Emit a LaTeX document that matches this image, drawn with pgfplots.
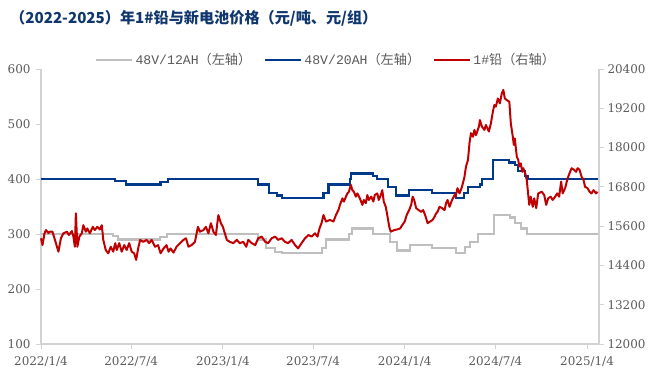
\documentclass[border=0pt]{standalone}
\usepackage{fontspec}
\usepackage{pgfplots}
\pgfplotsset{compat=1.18}
\setmainfont{DejaVu Serif}
\newfontfamily\cjk{Noto Sans CJK SC}
\newfontfamily\mono{Liberation Mono}
\definecolor{cgray}{RGB}{191,191,191}
\definecolor{cblue}{RGB}{0,56,140}
\definecolor{cred}{RGB}{192,0,0}
\definecolor{axgray}{RGB}{210,210,210}
\definecolor{txt}{RGB}{89,89,89}
\definecolor{ttl}{RGB}{16,54,110}
\pgfplotsset{
  base/.style={
    scale only axis, width=558bp, height=275bp,
    xmin=0, xmax=1120,
    axis line style={-, draw=axgray, line width=1.6pt},
    tick style={draw=axgray, line width=1pt},
    tick align=outside, major tick length=5bp,
    ticklabel style={font=\fontsize{12}{14}\selectfont, text=txt},
    /pgf/number format/assume math mode=true,
    /pgf/number format/1000 sep={},
    scaled y ticks=false,
    clip=false,
  }
}
\begin{document}
\begin{tikzpicture}
\path[use as bounding box] (-41bp,-37bp) rectangle (623bp,344bp);
\node[anchor=west, font=\cjk\bfseries\fontsize{15.2}{18}\selectfont, text=ttl, inner sep=0] at (-31bp,326bp) {（2022-2025）年1\#铅与新电池价格（元/吨、元/组）};
\begin{axis}[base,
  ymin=100, ymax=600,
  axis y line*=left, axis x line*=bottom,
  xtick={0,181,365,546,730,912,1096},
  xticklabels={2022/1/4,2022/7/4,2023/1/4,2023/7/4,2024/1/4,2024/7/4,2025/1/4},
  xticklabel style={yshift=-4bp},
  ytick={100,200,...,600},
  yticklabel style={xshift=-2bp},
  legend style={at={(axis description cs:0.511,1.033)}, anchor=center, draw=none, fill=none,
    legend columns=3, font=\fontsize{13.2}{15}\selectfont, text=txt,
    /tikz/every even column/.append style={column sep=11bp}},
  legend image code/.code={\draw[#1] (0bp,0bp) -- (36bp,0bp);},
]
\addplot[const plot, cgray, line width=2.2pt] coordinates {
(0,300)(145,296)(155,290)(239,295)(253,300)(436,290)(452,275)(470,268)(484,265)(564,275)(572,290)(618,300)(624,310)(667,300)(701,285)(714,270)(741,280)(784,275)(833,265)(851,277)(861,285)(877,300)(909,335)(941,330)(951,320)(964,310)(976,300)(1120,300)
};
\addlegendentry{{\mono 48V/12AH}{\cjk（左轴）}}
\addplot[const plot, cblue, line width=2.2pt] coordinates {
(0,400)(148,396)(171,390)(240,395)(255,400)(436,390)(458,375)(474,370)(483,365)(567,375)(577,390)(620,400)(623,410)(667,405)(674,400)(697,385)(713,370)(738,380)(785,375)(833,365)(849,375)(857,385)(881,390)(885,400)(908,435)(940,430)(951,425)(958,415)(972,405)(978,400)(1120,400)
};
\addlegendentry{{\mono 48V/20AH}{\cjk（左轴）}}
\addlegendimage{cred, line width=2.2pt}
\addlegendentry{{\mono 1\#}{\cjk 铅（右轴）}}
\end{axis}
\begin{axis}[base,
  ymin=12000, ymax=20400,
  axis y line*=right, axis x line=none,
  ytick={12000,13200,...,20400},
]
\addplot[cred, line width=2pt, line join=round] coordinates {
(0,15230)(3,15020)(7,15380)(10,15480)(15,15390)(18,15430)(23,15430)(28,15180)(35,14820)(40,15230)(45,15380)(52,15430)(56,15330)(62,15450)(65,15280)(68,14970)(70,15990)(73,14970)(77,15280)(82,15380)(85,15630)(90,15430)(93,15530)(98,15380)(104,15580)(108,15480)(113,15580)(118,15500)(122,15630)(125,15180)(130,14870)(135,14770)(140,14970)(145,14820)(149,15080)(152,14870)(157,15080)(162,14820)(167,15020)(172,14870)(177,15080)(182,14820)(187,14770)(191,14570)(195,14920)(199,15180)(205,15120)(212,15180)(217,15080)(222,15180)(229,14970)(235,15020)(240,14770)(246,14920)(252,15020)(256,14820)(260,14920)(266,14790)(272,14970)(279,15080)(286,15180)(291,15230)(296,14970)(302,15020)(309,15120)(315,15580)(319,15430)(326,15480)(331,15580)(336,15380)(341,15690)(346,15430)(351,15330)(356,15940)(361,15690)(365,15580)(369,15380)(373,15180)(379,15120)(386,15080)(393,15180)(399,15080)(406,15120)(412,14970)(416,15180)(423,15080)(430,15020)(436,15230)(443,15280)(450,15120)(456,15080)(463,15230)(470,15280)(476,15180)(483,15230)(490,15120)(496,15080)(503,15180)(510,15020)(516,14920)(523,15080)(530,15230)(537,15330)(543,15280)(550,15380)(555,15280)(559,15530)(563,15690)(567,15940)(572,15740)(580,15790)(587,15740)(592,15940)(597,16090)(600,16250)(605,16450)(608,16350)(612,16500)(615,16600)(618,16650)(622,16860)(625,16700)(628,16650)(632,16500)(635,16600)(640,16450)(645,16250)(648,16400)(652,16300)(655,16550)(658,16400)(663,16500)(667,16350)(670,16550)(675,16600)(678,16400)(682,16550)(685,16700)(688,16350)(692,16190)(695,15940)(699,15580)(702,15430)(709,15480)(715,15500)(721,15530)(725,15630)(730,15740)(734,15940)(739,16090)(743,16250)(746,16500)(749,16400)(753,16150)(758,16090)(763,16040)(767,16090)(771,15940)(776,15690)(781,15740)(786,15790)(790,15890)(793,15990)(796,16040)(800,16190)(805,16150)(810,16090)(813,16300)(816,16400)(820,16190)(825,16400)(830,16550)(832,16500)(836,16760)(840,16600)(845,16800)(850,17110)(853,17420)(857,17620)(860,18130)(863,18440)(867,18330)(870,18540)(873,18380)(879,18640)(881,18840)(885,18640)(890,18540)(893,18690)(899,18490)(903,18740)(907,19100)(910,19300)(913,19250)(917,19500)(921,19350)(925,19660)(928,19760)(931,19500)(935,19450)(940,19400)(943,18740)(947,18330)(949,18080)(951,18280)(955,17720)(958,17620)(960,17420)(963,17520)(966,17260)(968,17370)(972,17210)(975,17010)(977,16700)(980,16250)(983,16500)(987,16190)(990,16450)(994,16150)(998,16600)(1005,16650)(1010,16550)(1014,16250)(1018,16450)(1023,16500)(1027,16400)(1032,16500)(1036,16600)(1040,16500)(1044,16960)(1047,16600)(1052,16760)(1057,17060)(1062,17260)(1065,17370)(1070,17320)(1074,17260)(1077,17370)(1081,17320)(1085,17110)(1089,17010)(1092,16800)(1097,16760)(1101,16650)(1105,16600)(1109,16700)(1114,16600)(1117,16650)
};
\end{axis}
\end{tikzpicture}
\end{document}
